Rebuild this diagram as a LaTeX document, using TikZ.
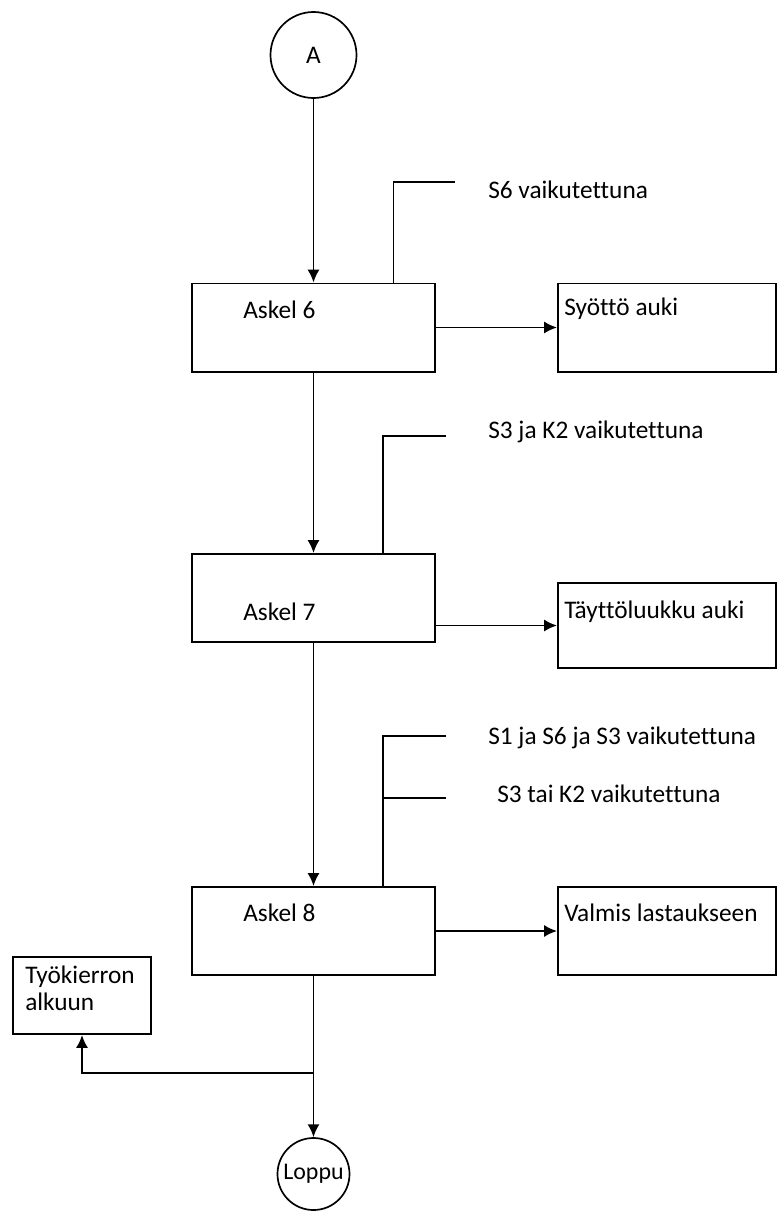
\documentclass[tikz,border=0pt]{standalone}
\usepackage{fontspec}
\setmainfont{Carlito}[Ligatures={NoCommon}]
\usetikzlibrary{arrows.meta,positioning}

\begin{document}
\begin{tikzpicture}[x=0.025cm,y=-0.025cm]
  \tikzset{
    box/.style={draw, rectangle, line width=1.4pt, minimum width=6.075cm, minimum height=2.2cm, inner sep=0pt},
    outbox/.style={draw, rectangle, line width=1.4pt, minimum width=5.45cm, minimum height=2.2cm, inner sep=0pt},
    conn/.style={draw, circle, line width=1.2pt, inner sep=0pt, font=\fontsize{18}{22}\selectfont},
    txt/.style={anchor=west, inner sep=0pt, font=\fontsize{18}{19.5}\selectfont},
    line/.style={draw, line width=1.3pt, -{Latex[length=0.32cm,width=0.3cm]}},
    wire/.style={draw, line width=1.3pt}
  }
  \useasboundingbox (0,0) rectangle (777,1211);

  \node [conn, minimum size=2.15cm] (A) at (313.5,55) {A};
  \node [box] (s6) at (313.5,327.5) {};
  \node [txt] (t6) at (243,310) {Askel 6};
  \node [outbox] (o6) at (667,327.5) {};
  \node [txt] (u6) at (564,309) {Syöttö auki};

  \node [box] (s7) at (313.5,598) {};
  \node [txt] (t7) at (243,612) {Askel 7};
  \node [outbox, minimum height=2.125cm] (o7) at (667,625.5) {};
  \node [txt] (u7) at (564,612) {Täyttöluukku auki};

  \node [box] (s8) at (313.5,931) {};
  \node [txt] (t8) at (243,913) {Askel 8};
  \node [outbox] (o8) at (667,931) {};
  \node [txt] (u8) at (564,913) {Valmis lastaukseen};

  \node [outbox, minimum width=3.45cm, minimum height=1.925cm] (tyo) at (82,995.5) {};
  \node [txt, align=left] (ttyo) at (25,988.5) {Työkierron\\alkuun};
  \node [conn, minimum size=1.8cm, font=\fontsize{17}{20}\selectfont] (loppu) at (313.5,1174) {Loppu};

  % ehdot
  \node [txt] (c6) at (488,190) {S6 vaikutettuna};
  \node [txt] (c7) at (488,432) {S3 ja K2 vaikutettuna};
  \node [txt] (c8a) at (488,738) {S1 ja S6 ja S3 vaikutettuna};
  \node [txt] (c8b) at (497,794) {S3 tai K2 vaikutettuna};
  \coordinate (e6) at (455,182);
  \coordinate (e7) at (446,436);
  \coordinate (e8a) at (446,736);
  \coordinate (e8b) at (446,798);
  \coordinate (haara) at (313.5,1073);

  \path [line] (A)--(s6);
  \path [line] (s6)--(s7);
  \path [line] (s7)--(s8);
  \path [line] (s8)--(loppu);
  \path [line] (s6.east |- o6)--(o6);
  \path [line] (s7.east |- o7)--(o7);
  \path [line] (s8.east |- o8)--(o8);
  \path [line] (haara) -| (tyo);

  \path [wire] ([xshift=2cm]s6.north) |- (e6);
  \path [wire] ([xshift=1.74cm]s7.north) |- (e7);
  \path [wire] ([xshift=1.74cm]s8.north) |- (e8a);
  \path [wire] ([xshift=1.74cm]s8.north |- e8b) -- (e8b);
\end{tikzpicture}
\end{document}
